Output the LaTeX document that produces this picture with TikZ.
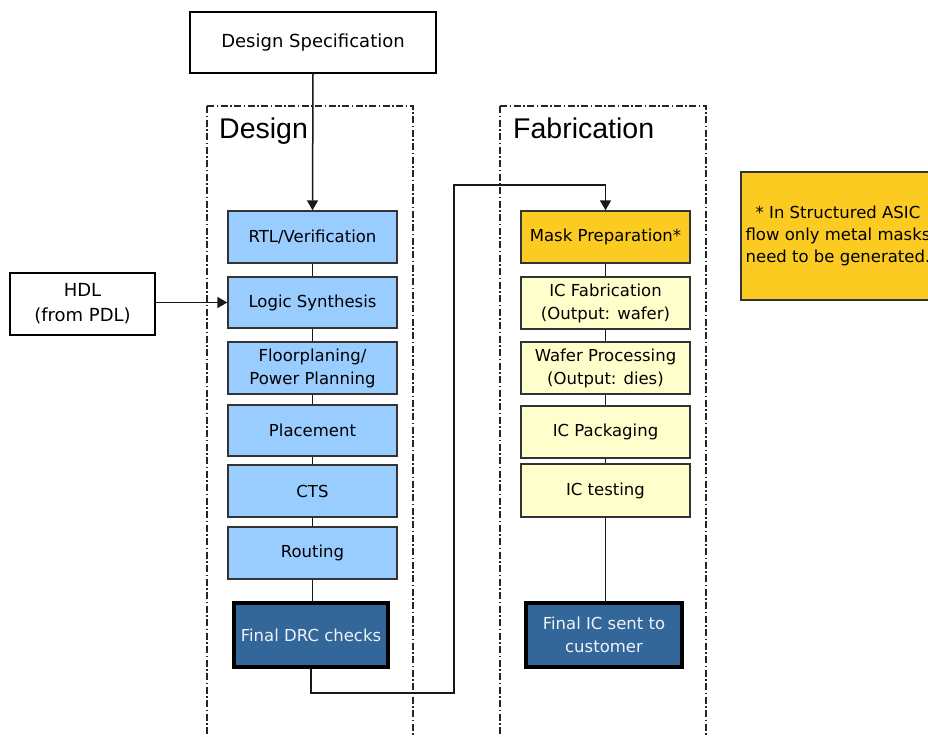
\documentclass[tikz,border=0pt]{standalone}
\usepackage{fontspec}
\setmainfont{DejaVu Sans}
\newfontfamily\titlefont{Liberation Sans}
\usetikzlibrary{arrows.meta}
\definecolor{lblue}{HTML}{99CCFF}
\definecolor{dblue}{HTML}{336699}
\definecolor{lyellow}{HTML}{FFFFCC}
\definecolor{myellow}{HTML}{FCCB22}
\definecolor{edge}{HTML}{333333}
\begin{document}
\begin{tikzpicture}[x=1pt,y=1pt,
  box/.style={draw=edge, line width=1.4pt, inner sep=0pt, minimum width=169pt, minimum height=52pt, align=center, font=\fontsize{16.5}{23}\selectfont},
  bluebox/.style={box, fill=lblue},
  fabbox/.style={box, fill=lyellow},
  maskbox/.style={box, fill=myellow},
  finalbox/.style={box, fill=dblue, draw=black, line width=4pt, minimum width=154pt, minimum height=64pt, text=white!92!dblue},
  whitebox/.style={draw=black, line width=1.2pt, fill=white, inner sep=0pt, align=center, font=\fontsize{18}{25}\selectfont},
  container/.style={draw=black!85, line width=1.3pt, dash pattern=on 7pt off 2.5pt on 1.5pt off 2.5pt},
  conn/.style={draw=black!90, line width=1.5pt},
  arr/.style={conn, -{Triangle[width=11pt,length=10pt]}},
  title/.style={font=\titlefont\fontsize{28.5}{30}\selectfont, anchor=base west, inner sep=0pt}
]
\clip (0,0) rectangle (928,-736);
\fill[white] (0,0) rectangle (928,-736);

% containers
\draw[container] (207,-106) -- (207,-745) (207,-106) -- (413,-106) -- (413,-745);
\draw[container] (500,-106) -- (500,-745) (500,-106) -- (706,-106) -- (706,-745);
\node[title] (tdesign) at (219,-138) {Design};
\node[title] (tfab) at (513,-138) {Fabrication};

% top & side inputs
\node[whitebox, minimum width=246pt, minimum height=61pt] (spec) at (313,-42.5) {Design Specification};
\node[whitebox, minimum width=145pt, minimum height=62pt] (hdl) at (82.5,-304) {HDL\\(from PDL)};

% design flow
\node[bluebox] (rtl) at (312.5,-237) {RTL/Verification};
\node[bluebox, minimum height=51pt] (logic) at (312.5,-302.5) {Logic Synthesis};
\node[bluebox] (floor) at (312.5,-368) {Floorplaning/\\Power Planning};
\node[bluebox, minimum height=51pt] (place) at (312.5,-430.5) {Placement};
\node[bluebox] (cts) at (312.5,-491) {CTS};
\node[bluebox] (route) at (312.5,-553) {Routing};
\node[finalbox] (drc) at (311,-635) {Final DRC checks};

% fabrication flow
\node[maskbox] (mask) at (605.5,-237) {Mask Preparation*};
\node[fabbox] (icfab) at (605.5,-303) {IC Fabrication\\(Output: wafer)};
\node[fabbox] (wafer) at (605.5,-368) {Wafer Processing\\(Output: dies)};
\node[fabbox] (pack) at (605.5,-432) {IC Packaging};
\node[fabbox, minimum height=53pt] (test) at (605.5,-490.5) {IC testing};
\node[finalbox, minimum width=156pt] (final) at (604,-635) {Final IC sent to\\customer};

% note
\node[draw=edge, line width=1.4pt, fill=myellow, minimum width=194pt, minimum height=128pt, inner sep=0pt, align=center, font=\fontsize{16.5}{22}\selectfont] (note) at (838,-236) {* In Structured ASIC\\flow only metal masks\\need to be generated.};

% connectors
\draw[arr] (spec.south) -- (rtl.north);
\draw[arr] (hdl.east |- logic.west) -- (logic.west);
\draw[conn] (rtl) -- (logic);
\draw[conn] (logic) -- (floor);
\draw[conn] (floor) -- (place);
\draw[conn] (place) -- (cts);
\draw[conn] (cts) -- (route);
\draw[conn] (route.south) -- (route.south |- drc.north);
\draw[conn] (mask) -- (icfab);
\draw[conn] (icfab) -- (wafer);
\draw[conn] (wafer) -- (pack);
\draw[conn] (pack) -- (test);
\draw[conn] (test.south) -- (test.south |- final.north);
\coordinate (low) at (454,-693);
\coordinate (high) at (454,-185);
\draw[arr] (drc.south) |- (low) -- (high) -| (mask.north);
\end{tikzpicture}
\end{document}
